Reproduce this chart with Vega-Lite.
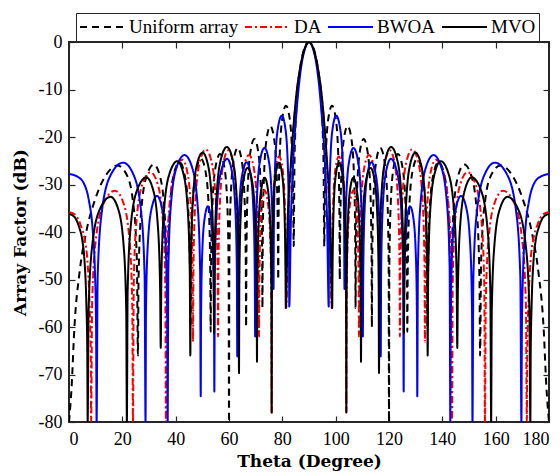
{
"$schema": "https://vega.github.io/schema/vega-lite/v6.json",
"width": 480, "height": 380,
"autosize": {"type": "none"},
"padding": {"left": 69, "top": 42, "right": 11, "bottom": 51},
"background": "white",
"config": {
 "view": {"stroke": "#262626", "strokeWidth": 2},
 "font": "Liberation Serif",
 "axis": {"grid": false, "domain": false, "tickColor": "#262626", "tickWidth": 1.2, "tickSize": -6, "labelColor": "black", "labelFont": "Liberation Serif", "labelFontSize": 18, "titleFont": "DejaVu Serif", "titleFontSize": 17, "titleFontWeight": "bold", "titleColor": "black"},
 "legend": {"orient": "none", "legendX": 7, "legendY": -29, "direction": "horizontal", "strokeColor": "#262626", "fillColor": "white", "padding": 3, "clipHeight": 22, "symbolType": "stroke", "symbolSize": 2025, "symbolStrokeWidth": 2, "labelFont": "Liberation Serif", "labelFontSize": 19, "labelColor": "black", "labelOffset": 3, "columnPadding": 5, "labelLimit": 0}
},
"datasets": {
 "U": [
{"x":0,"y":-80},{"x":1,"y":-72.4},{"x":2,"y":-60.4},{"x":4,"y":-48.3},{"x":6.25,"y":-40.6},{"x":10,"y":-32.8},{"x":14,"y":-27.9},{"x":18.19,"y":-26},{"x":22,"y":-28.4},{"x":24,"y":-33.7},{"x":25,"y":-40},{"x":25.5,"y":-47.7},{"x":25.84,"y":-66},
{"x":26.08,"y":-49.8},{"x":27.03,"y":-36},{"x":29.11,"y":-28.2},{"x":31.79,"y":-25.8},{"x":34.08,"y":-28.2},{"x":35.85,"y":-36},{"x":36.67,"y":-49.8},{"x":36.87,"y":-62},
{"x":37.05,"y":-49.3},{"x":37.78,"y":-35.5},{"x":39.37,"y":-27.7},{"x":41.41,"y":-25.3},{"x":43.28,"y":-27.7},{"x":44.74,"y":-35.5},{"x":45.4,"y":-49.3},{"x":45.57,"y":-60},
{"x":45.73,"y":-48.6},{"x":46.35,"y":-34.8},{"x":47.71,"y":-27},{"x":49.46,"y":-24.6},{"x":51.11,"y":-27},{"x":52.4,"y":-34.8},{"x":52.98,"y":-48.6},{"x":53.13,"y":-61},
{"x":53.27,"y":-47.6},{"x":53.83,"y":-33.8},{"x":55.06,"y":-26},{"x":56.63,"y":-23.6},{"x":58.15,"y":-26},{"x":59.33,"y":-33.8},{"x":59.87,"y":-47.6},{"x":60,"y":-80},
{"x":60.13,"y":-46.3},{"x":60.65,"y":-32.5},{"x":61.79,"y":-24.7},{"x":63.26,"y":-22.3},{"x":64.68,"y":-24.7},{"x":65.79,"y":-32.5},{"x":66.29,"y":-46.3},{"x":66.42,"y":-60},
{"x":66.54,"y":-44.4},{"x":67.04,"y":-30.6},{"x":68.12,"y":-22.8},{"x":69.51,"y":-20.4},{"x":70.87,"y":-22.8},{"x":71.93,"y":-30.6},{"x":72.42,"y":-44.4},{"x":72.54,"y":-56},
{"x":72.66,"y":-41.7},{"x":73.14,"y":-27.9},{"x":74.18,"y":-20.1},{"x":75.52,"y":-17.7},{"x":76.84,"y":-20.1},{"x":77.87,"y":-27.9},{"x":78.34,"y":-41.7},{"x":78.46,"y":-50},
{"x":78.58,"y":-37.4},{"x":79.04,"y":-23.6},{"x":80.06,"y":-15.8},{"x":81.37,"y":-13.4},{"x":82.67,"y":-15.8},{"x":83.68,"y":-23.6},{"x":84.14,"y":-37.4},{"x":84.26,"y":-43},
{"x":84.55,"y":-25.6},{"x":84.83,"y":-19.2},{"x":85.41,"y":-12.6},{"x":86.56,"y":-5.94},{"x":87.7,"y":-2.42},{"x":88.85,"y":-0.58},{"x":90,"y":0},
{"x":180,"y":-80},{"x":179,"y":-72.4},{"x":178,"y":-60.4},{"x":176,"y":-48.3},{"x":173.75,"y":-40.6},{"x":170,"y":-32.8},{"x":166,"y":-27.9},{"x":161.81,"y":-26},{"x":158,"y":-28.4},{"x":156,"y":-33.7},{"x":155,"y":-40},{"x":154.5,"y":-47.7},{"x":154.16,"y":-66},
{"x":153.92,"y":-49.8},{"x":152.97,"y":-36},{"x":150.89,"y":-28.2},{"x":148.21,"y":-25.8},{"x":145.92,"y":-28.2},{"x":144.15,"y":-36},{"x":143.33,"y":-49.8},{"x":143.13,"y":-62},
{"x":142.95,"y":-49.3},{"x":142.22,"y":-35.5},{"x":140.63,"y":-27.7},{"x":138.59,"y":-25.3},{"x":136.72,"y":-27.7},{"x":135.26,"y":-35.5},{"x":134.6,"y":-49.3},{"x":134.43,"y":-60},
{"x":134.27,"y":-48.6},{"x":133.65,"y":-34.8},{"x":132.29,"y":-27},{"x":130.54,"y":-24.6},{"x":128.89,"y":-27},{"x":127.6,"y":-34.8},{"x":127.02,"y":-48.6},{"x":126.87,"y":-61},
{"x":126.73,"y":-47.6},{"x":126.17,"y":-33.8},{"x":124.94,"y":-26},{"x":123.37,"y":-23.6},{"x":121.85,"y":-26},{"x":120.67,"y":-33.8},{"x":120.13,"y":-47.6},{"x":120,"y":-80},
{"x":119.87,"y":-46.3},{"x":119.35,"y":-32.5},{"x":118.21,"y":-24.7},{"x":116.74,"y":-22.3},{"x":115.32,"y":-24.7},{"x":114.21,"y":-32.5},{"x":113.71,"y":-46.3},{"x":113.58,"y":-60},
{"x":113.46,"y":-44.4},{"x":112.96,"y":-30.6},{"x":111.88,"y":-22.8},{"x":110.49,"y":-20.4},{"x":109.13,"y":-22.8},{"x":108.07,"y":-30.6},{"x":107.58,"y":-44.4},{"x":107.46,"y":-56},
{"x":107.34,"y":-41.7},{"x":106.86,"y":-27.9},{"x":105.82,"y":-20.1},{"x":104.48,"y":-17.7},{"x":103.16,"y":-20.1},{"x":102.13,"y":-27.9},{"x":101.66,"y":-41.7},{"x":101.54,"y":-50},
{"x":101.42,"y":-37.4},{"x":100.96,"y":-23.6},{"x":99.94,"y":-15.8},{"x":98.63,"y":-13.4},{"x":97.33,"y":-15.8},{"x":96.32,"y":-23.6},{"x":95.86,"y":-37.4},{"x":95.74,"y":-43},
{"x":95.45,"y":-25.6},{"x":95.17,"y":-19.2},{"x":94.59,"y":-12.6},{"x":93.44,"y":-5.94},{"x":92.3,"y":-2.42},{"x":91.15,"y":-0.58}
 ],
 "D": [
{"x":0,"y":-35.8},{"x":2.4,"y":-36.4},{"x":4.4,"y":-38.6},{"x":5.9,"y":-41.6},{"x":6.9,"y":-46},{"x":7.7,"y":-55},{"x":8.15,"y":-65},{"x":8.3,"y":-80},
{"x":8.66,"y":-55.3},{"x":10.09,"y":-41.5},{"x":13.22,"y":-33.7},{"x":17.25,"y":-31.3},{"x":20.29,"y":-33.7},{"x":22.65,"y":-41.5},{"x":23.73,"y":-55.3},{"x":24,"y":-80},
{"x":24.26,"y":-51.4},{"x":25.32,"y":-37.6},{"x":27.63,"y":-29.8},{"x":30.6,"y":-27.4},{"x":33.19,"y":-29.8},{"x":35.2,"y":-37.6},{"x":36.12,"y":-51.4},{"x":36.35,"y":-80},
{"x":36.6,"y":-48.8},{"x":37.58,"y":-35},{"x":39.73,"y":-27.2},{"x":42.5,"y":-24.8},{"x":44.3,"y":-27.2},{"x":45.7,"y":-35},{"x":46.34,"y":-48.8},{"x":46.5,"y":-63.1},
{"x":46.69,"y":-46.6},{"x":47.46,"y":-32.8},{"x":49.14,"y":-25},{"x":51.3,"y":-22.6},{"x":53.37,"y":-25},{"x":54.98,"y":-32.8},{"x":55.72,"y":-46.6},{"x":55.9,"y":-62},
{"x":56.05,"y":-46.8},{"x":56.66,"y":-33},{"x":57.99,"y":-25.2},{"x":59.7,"y":-22.8},{"x":61.41,"y":-25.2},{"x":62.74,"y":-33},{"x":63.35,"y":-46.8},{"x":63.5,"y":-60},
{"x":63.66,"y":-47.8},{"x":64.3,"y":-34},{"x":65.7,"y":-26.2},{"x":67.5,"y":-23.8},{"x":69.19,"y":-26.2},{"x":70.5,"y":-34},{"x":71.1,"y":-47.8},{"x":71.25,"y":-62},
{"x":71.33,"y":-55.2},{"x":71.66,"y":-41.4},{"x":72.38,"y":-33.6},{"x":73.3,"y":-31.2},{"x":74.52,"y":-33.6},{"x":75.46,"y":-41.4},{"x":75.89,"y":-55.2},{"x":76,"y":-78},
{"x":76.11,"y":-48.1},{"x":76.56,"y":-34.3},{"x":77.54,"y":-26.5},{"x":78.8,"y":-24.1},{"x":80.02,"y":-26.5},{"x":80.96,"y":-34.3},{"x":81.39,"y":-48.1},{"x":81.5,"y":-56},
{"x":82.2,"y":-38},{"x":83.3,"y":-26},{"x":85,"y":-12.8},{"x":87,"y":-4.6},{"x":88.5,"y":-1.2},{"x":90,"y":0},
{"x":180,"y":-35.8},{"x":177.6,"y":-36.4},{"x":175.6,"y":-38.6},{"x":174.1,"y":-41.6},{"x":173.1,"y":-46},{"x":172.3,"y":-55},{"x":171.85,"y":-65},{"x":171.7,"y":-80},
{"x":171.34,"y":-55.3},{"x":169.91,"y":-41.5},{"x":166.78,"y":-33.7},{"x":162.75,"y":-31.3},{"x":159.71,"y":-33.7},{"x":157.35,"y":-41.5},{"x":156.27,"y":-55.3},{"x":156,"y":-80},
{"x":155.74,"y":-51.4},{"x":154.68,"y":-37.6},{"x":152.37,"y":-29.8},{"x":149.4,"y":-27.4},{"x":146.81,"y":-29.8},{"x":144.8,"y":-37.6},{"x":143.88,"y":-51.4},{"x":143.65,"y":-80},
{"x":143.4,"y":-48.8},{"x":142.42,"y":-35},{"x":140.27,"y":-27.2},{"x":137.5,"y":-24.8},{"x":135.7,"y":-27.2},{"x":134.3,"y":-35},{"x":133.66,"y":-48.8},{"x":133.5,"y":-63.1},
{"x":133.31,"y":-46.6},{"x":132.54,"y":-32.8},{"x":130.86,"y":-25},{"x":128.7,"y":-22.6},{"x":126.63,"y":-25},{"x":125.02,"y":-32.8},{"x":124.28,"y":-46.6},{"x":124.1,"y":-62},
{"x":123.95,"y":-46.8},{"x":123.34,"y":-33},{"x":122.01,"y":-25.2},{"x":120.3,"y":-22.8},{"x":118.59,"y":-25.2},{"x":117.26,"y":-33},{"x":116.65,"y":-46.8},{"x":116.5,"y":-60},
{"x":116.34,"y":-47.8},{"x":115.7,"y":-34},{"x":114.3,"y":-26.2},{"x":112.5,"y":-23.8},{"x":110.81,"y":-26.2},{"x":109.5,"y":-34},{"x":108.9,"y":-47.8},{"x":108.75,"y":-62},
{"x":108.67,"y":-55.2},{"x":108.34,"y":-41.4},{"x":107.62,"y":-33.6},{"x":106.7,"y":-31.2},{"x":105.48,"y":-33.6},{"x":104.54,"y":-41.4},{"x":104.11,"y":-55.2},{"x":104,"y":-78},
{"x":103.89,"y":-48.1},{"x":103.44,"y":-34.3},{"x":102.46,"y":-26.5},{"x":101.2,"y":-24.1},{"x":99.98,"y":-26.5},{"x":99.04,"y":-34.3},{"x":98.61,"y":-48.1},{"x":98.5,"y":-56},
{"x":97.8,"y":-38},{"x":96.7,"y":-26},{"x":95,"y":-12.8},{"x":93,"y":-4.6},{"x":91.5,"y":-1.2}
 ],
 "B": [
{"x":0,"y":-27.8},{"x":3,"y":-28.3},{"x":5.6,"y":-29.8},{"x":7.5,"y":-33.5},{"x":8.8,"y":-39},{"x":9.7,"y":-48},{"x":10.15,"y":-60},{"x":10.35,"y":-80},
{"x":10.75,"y":-49.4},{"x":12.34,"y":-35.6},{"x":15.82,"y":-27.8},{"x":20.3,"y":-25.4},{"x":24.08,"y":-27.8},{"x":27.02,"y":-35.6},{"x":28.36,"y":-49.4},{"x":28.7,"y":-80},
{"x":28.87,"y":-56.4},{"x":29.56,"y":-42.6},{"x":31.07,"y":-34.8},{"x":33,"y":-32.4},{"x":34.8,"y":-34.8},{"x":36.2,"y":-42.6},{"x":36.84,"y":-56.4},{"x":37,"y":-80},
{"x":37.25,"y":-47.8},{"x":38.26,"y":-34},{"x":40.47,"y":-26.2},{"x":43.3,"y":-23.8},{"x":46.05,"y":-26.2},{"x":48.18,"y":-34},{"x":49.16,"y":-47.8},{"x":49.4,"y":-74.6},
{"x":49.51,"y":-58.6},{"x":49.94,"y":-44.8},{"x":50.89,"y":-37},{"x":52.1,"y":-34.6},{"x":53.18,"y":-37},{"x":54.02,"y":-44.8},{"x":54.4,"y":-58.6},{"x":54.5,"y":-73.6},
{"x":54.69,"y":-48.6},{"x":55.46,"y":-34.8},{"x":57.14,"y":-27},{"x":59.3,"y":-24.6},{"x":61.01,"y":-27},{"x":62.34,"y":-34.8},{"x":62.95,"y":-48.6},{"x":63.1,"y":-66.2},
{"x":63.24,"y":-49.3},{"x":63.8,"y":-35.5},{"x":65.03,"y":-27.7},{"x":66.6,"y":-25.3},{"x":68.04,"y":-27.7},{"x":69.16,"y":-35.5},{"x":69.67,"y":-49.3},{"x":69.8,"y":-62},
{"x":69.94,"y":-46.3},{"x":70.5,"y":-32.5},{"x":71.73,"y":-24.7},{"x":73.3,"y":-22.3},{"x":74.83,"y":-24.7},{"x":76.02,"y":-32.5},{"x":76.56,"y":-46.3},{"x":76.7,"y":-52},
{"x":76.82,"y":-39.5},{"x":77.32,"y":-25.7},{"x":78.41,"y":-17.9},{"x":79.8,"y":-15.5},{"x":81.06,"y":-17.9},{"x":82.04,"y":-25.7},{"x":82.49,"y":-39.5},{"x":82.6,"y":-55.7},
{"x":83.2,"y":-38},{"x":84,"y":-26},{"x":85.5,"y":-13.5},{"x":87,"y":-5.5},{"x":88.5,"y":-1.4},{"x":90,"y":0},
{"x":180,"y":-27.8},{"x":177,"y":-28.3},{"x":174.4,"y":-29.8},{"x":172.5,"y":-33.5},{"x":171.2,"y":-39},{"x":170.3,"y":-48},{"x":169.85,"y":-60},{"x":169.65,"y":-80},
{"x":169.25,"y":-49.4},{"x":167.66,"y":-35.6},{"x":164.18,"y":-27.8},{"x":159.7,"y":-25.4},{"x":155.92,"y":-27.8},{"x":152.98,"y":-35.6},{"x":151.64,"y":-49.4},{"x":151.3,"y":-80},
{"x":151.13,"y":-56.4},{"x":150.44,"y":-42.6},{"x":148.93,"y":-34.8},{"x":147,"y":-32.4},{"x":145.2,"y":-34.8},{"x":143.8,"y":-42.6},{"x":143.16,"y":-56.4},{"x":143,"y":-80},
{"x":142.75,"y":-47.8},{"x":141.74,"y":-34},{"x":139.53,"y":-26.2},{"x":136.7,"y":-23.8},{"x":133.95,"y":-26.2},{"x":131.82,"y":-34},{"x":130.84,"y":-47.8},{"x":130.6,"y":-74.6},
{"x":130.49,"y":-58.6},{"x":130.06,"y":-44.8},{"x":129.11,"y":-37},{"x":127.9,"y":-34.6},{"x":126.82,"y":-37},{"x":125.98,"y":-44.8},{"x":125.6,"y":-58.6},{"x":125.5,"y":-73.6},
{"x":125.31,"y":-48.6},{"x":124.54,"y":-34.8},{"x":122.86,"y":-27},{"x":120.7,"y":-24.6},{"x":118.99,"y":-27},{"x":117.66,"y":-34.8},{"x":117.05,"y":-48.6},{"x":116.9,"y":-66.2},
{"x":116.76,"y":-49.3},{"x":116.2,"y":-35.5},{"x":114.97,"y":-27.7},{"x":113.4,"y":-25.3},{"x":111.96,"y":-27.7},{"x":110.84,"y":-35.5},{"x":110.33,"y":-49.3},{"x":110.2,"y":-62},
{"x":110.06,"y":-46.3},{"x":109.5,"y":-32.5},{"x":108.27,"y":-24.7},{"x":106.7,"y":-22.3},{"x":105.17,"y":-24.7},{"x":103.98,"y":-32.5},{"x":103.44,"y":-46.3},{"x":103.3,"y":-52},
{"x":103.18,"y":-39.5},{"x":102.68,"y":-25.7},{"x":101.59,"y":-17.9},{"x":100.2,"y":-15.5},{"x":98.94,"y":-17.9},{"x":97.96,"y":-25.7},{"x":97.51,"y":-39.5},{"x":97.4,"y":-55.7},
{"x":96.8,"y":-38},{"x":96,"y":-26},{"x":94.5,"y":-13.5},{"x":93,"y":-5.5},{"x":91.5,"y":-1.4}
 ],
 "M": [
{"x":0,"y":-36.2},{"x":2,"y":-36.8},{"x":3.75,"y":-38.9},{"x":5,"y":-41.8},{"x":5.8,"y":-46},{"x":6.5,"y":-55},{"x":6.85,"y":-65},{"x":7,"y":-80},
{"x":7.34,"y":-56.6},{"x":8.72,"y":-42.8},{"x":11.73,"y":-35},{"x":15.6,"y":-32.6},{"x":18.35,"y":-35},{"x":20.48,"y":-42.8},{"x":21.46,"y":-56.6},{"x":21.7,"y":-80},
{"x":21.99,"y":-52.5},{"x":23.16,"y":-38.7},{"x":25.72,"y":-30.9},{"x":29,"y":-28.5},{"x":31.43,"y":-30.9},{"x":33.32,"y":-38.7},{"x":34.18,"y":-52.5},{"x":34.4,"y":-64.4},
{"x":34.65,"y":-49.1},{"x":35.64,"y":-35.3},{"x":37.81,"y":-27.5},{"x":40.6,"y":-25.1},{"x":42.8,"y":-27.5},{"x":44.52,"y":-35.3},{"x":45.3,"y":-49.1},{"x":45.5,"y":-66},
{"x":45.68,"y":-47.3},{"x":46.42,"y":-33.5},{"x":48.03,"y":-25.7},{"x":50.1,"y":-23.3},{"x":52.04,"y":-25.7},{"x":53.54,"y":-33.5},{"x":54.23,"y":-47.3},{"x":54.4,"y":-61.3},
{"x":54.59,"y":-46.1},{"x":55.36,"y":-32.3},{"x":57.04,"y":-24.5},{"x":59.2,"y":-22.1},{"x":61.25,"y":-24.5},{"x":62.84,"y":-32.3},{"x":63.57,"y":-46.1},{"x":63.75,"y":-69.7},
{"x":63.88,"y":-50.5},{"x":64.38,"y":-36.7},{"x":65.48,"y":-28.9},{"x":66.9,"y":-26.5},{"x":68.52,"y":-28.9},{"x":69.78,"y":-36.7},{"x":70.36,"y":-50.5},{"x":70.5,"y":-67.3},
{"x":70.62,"y":-52.6},{"x":71.08,"y":-38.8},{"x":72.1,"y":-31},{"x":73.4,"y":-28.6},{"x":74.57,"y":-31},{"x":75.48,"y":-38.8},{"x":75.9,"y":-52.6},{"x":76,"y":-78},
{"x":76.11,"y":-49.4},{"x":76.55,"y":-35.6},{"x":77.51,"y":-27.8},{"x":78.75,"y":-25.4},{"x":79.9,"y":-27.8},{"x":80.79,"y":-35.6},{"x":81.2,"y":-49.4},{"x":81.3,"y":-56},
{"x":82,"y":-38},{"x":83.1,"y":-26.5},{"x":85,"y":-12.5},{"x":87,"y":-4.5},{"x":88.5,"y":-1.2},{"x":90,"y":0},
{"x":180,"y":-36.2},{"x":178,"y":-36.8},{"x":176.25,"y":-38.9},{"x":175,"y":-41.8},{"x":174.2,"y":-46},{"x":173.5,"y":-55},{"x":173.15,"y":-65},{"x":173,"y":-80},
{"x":172.66,"y":-56.6},{"x":171.28,"y":-42.8},{"x":168.27,"y":-35},{"x":164.4,"y":-32.6},{"x":161.65,"y":-35},{"x":159.52,"y":-42.8},{"x":158.54,"y":-56.6},{"x":158.3,"y":-80},
{"x":158.01,"y":-52.5},{"x":156.84,"y":-38.7},{"x":154.28,"y":-30.9},{"x":151,"y":-28.5},{"x":148.57,"y":-30.9},{"x":146.68,"y":-38.7},{"x":145.82,"y":-52.5},{"x":145.6,"y":-64.4},
{"x":145.35,"y":-49.1},{"x":144.36,"y":-35.3},{"x":142.19,"y":-27.5},{"x":139.4,"y":-25.1},{"x":137.2,"y":-27.5},{"x":135.48,"y":-35.3},{"x":134.7,"y":-49.1},{"x":134.5,"y":-66},
{"x":134.32,"y":-47.3},{"x":133.58,"y":-33.5},{"x":131.97,"y":-25.7},{"x":129.9,"y":-23.3},{"x":127.96,"y":-25.7},{"x":126.46,"y":-33.5},{"x":125.77,"y":-47.3},{"x":125.6,"y":-61.3},
{"x":125.41,"y":-46.1},{"x":124.64,"y":-32.3},{"x":122.96,"y":-24.5},{"x":120.8,"y":-22.1},{"x":118.75,"y":-24.5},{"x":117.16,"y":-32.3},{"x":116.43,"y":-46.1},{"x":116.25,"y":-69.7},
{"x":116.12,"y":-50.5},{"x":115.62,"y":-36.7},{"x":114.52,"y":-28.9},{"x":113.1,"y":-26.5},{"x":111.48,"y":-28.9},{"x":110.22,"y":-36.7},{"x":109.64,"y":-50.5},{"x":109.5,"y":-67.3},
{"x":109.38,"y":-52.6},{"x":108.92,"y":-38.8},{"x":107.9,"y":-31},{"x":106.6,"y":-28.6},{"x":105.43,"y":-31},{"x":104.52,"y":-38.8},{"x":104.1,"y":-52.6},{"x":104,"y":-78},
{"x":103.89,"y":-49.4},{"x":103.45,"y":-35.6},{"x":102.49,"y":-27.8},{"x":101.25,"y":-25.4},{"x":100.1,"y":-27.8},{"x":99.21,"y":-35.6},{"x":98.8,"y":-49.4},{"x":98.7,"y":-56},
{"x":98,"y":-38},{"x":96.9,"y":-26.5},{"x":95,"y":-12.5},{"x":93,"y":-4.5},{"x":91.5,"y":-1.2}
 ]
},
"layer": [
 {"data": {"name": "U"},
  "mark": {"type": "line", "strokeWidth": 2, "interpolate": "monotone", "clip": true},
  "encoding": {
   "x": {"field": "x", "type": "quantitative", "scale": {"domain": [0, 180], "nice": false}, "axis": {"orient": "bottom", "values": [0,20,40,60,80,100,120,140,160,180], "title": "Theta (Degree)", "labelPadding": 14, "titlePadding": 5}},
   "y": {"field": "y", "type": "quantitative", "scale": {"domain": [-80, 0], "nice": false}, "axis": {"orient": "left", "values": [-80,-70,-60,-50,-40,-30,-20,-10,0], "title": "Array Factor (dB)", "labelPadding": 13, "titlePadding": 9, "labelExpr": "'' + datum.value"}},
   "color": {"datum": "Uniform array", "type": "nominal", "scale": {"domain": ["Uniform array", "DA", "BWOA", "MVO"], "range": ["#000000", "#ff0000", "#0000ff", "#000000"]}, "legend": {"title": null}},
   "strokeDash": {"datum": "Uniform array", "type": "nominal", "scale": {"domain": ["Uniform array", "DA", "BWOA", "MVO"], "range": [[7, 5], [7, 3, 2, 3], [1, 0], [1, 0]]}, "legend": {"title": null}}
  }},
 {"data": {"name": "D"},
  "mark": {"type": "line", "strokeWidth": 2, "interpolate": "monotone", "clip": true},
  "encoding": {
   "x": {"field": "x", "type": "quantitative", "axis": {"orient": "top", "values": [0,20,40,60,80,100,120,140,160,180], "labels": false, "title": null}},
   "y": {"field": "y", "type": "quantitative", "axis": {"orient": "right", "values": [-80,-70,-60,-50,-40,-30,-20,-10,0], "labels": false, "title": null}},
   "color": {"datum": "DA", "type": "nominal"},
   "strokeDash": {"datum": "DA", "type": "nominal"}
  }},
 {"data": {"name": "B"},
  "mark": {"type": "line", "strokeWidth": 2, "interpolate": "monotone", "clip": true},
  "encoding": {
   "x": {"field": "x", "type": "quantitative", "axis": null},
   "y": {"field": "y", "type": "quantitative", "axis": null},
   "color": {"datum": "BWOA", "type": "nominal"},
   "strokeDash": {"datum": "BWOA", "type": "nominal"}
  }},
 {"data": {"name": "M"},
  "mark": {"type": "line", "strokeWidth": 2, "interpolate": "monotone", "clip": true},
  "encoding": {
   "x": {"field": "x", "type": "quantitative", "axis": null},
   "y": {"field": "y", "type": "quantitative", "axis": null},
   "color": {"datum": "MVO", "type": "nominal"},
   "strokeDash": {"datum": "MVO", "type": "nominal"}
  }}
],
"resolve": {"axis": {"x": "independent", "y": "independent"}}
}
